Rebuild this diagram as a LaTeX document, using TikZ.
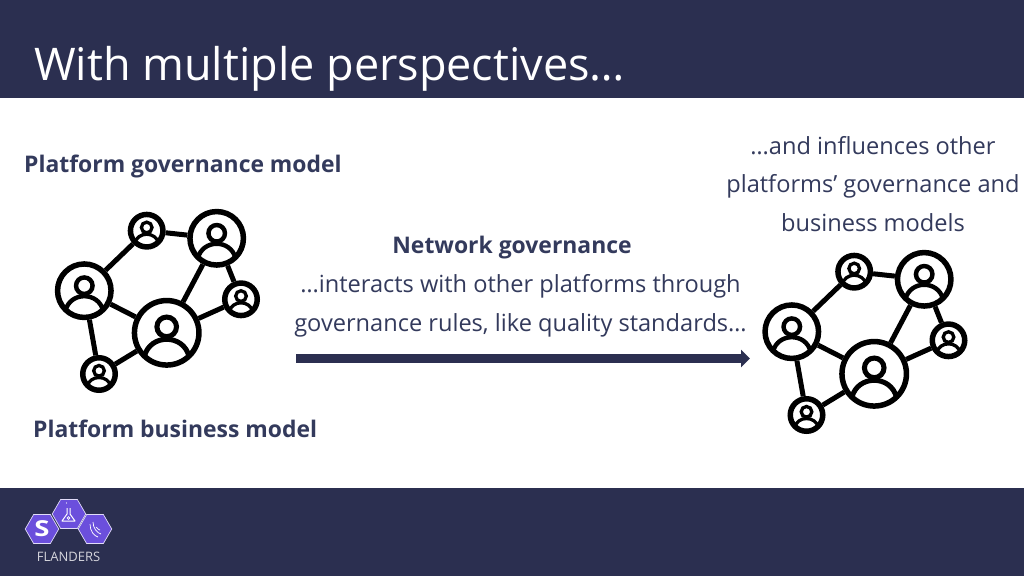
\documentclass[tikz,border=0pt]{standalone}
\usepackage{fontspec}
\setmainfont{Open Sans}
\usetikzlibrary{arrows.meta}
\usetikzlibrary{shapes.geometric}
\definecolor{bandblue}{HTML}{2B2F50}
\definecolor{inkblue}{HTML}{333A5C}
\definecolor{hexviolet}{HTML}{6B4FDC}
\tikzset{
  ring/.style={circle,draw=black,line width=#1,inner sep=0pt},
  link/.style={draw=black,line width=5pt},
  hexcell/.style={regular polygon,regular polygon sides=6,draw=white!80!hexviolet,line width=0.7pt,fill=hexviolet,minimum size=33.5pt,inner sep=0pt},
  label/.style={text=inkblue,font=\fontsize{23.6}{38.5}\selectfont,align=center,inner sep=0pt},
  boldlabel/.style={label,font=\fontsize{22.9}{38.5}\selectfont\bfseries}
}
% one user in a ring: name, position, ring radius
\newcommand{\usernode}[3]{
  \node[ring=5.5pt,minimum size=#3*2pt-5.5pt] (#1) at (#2) {};
  \begin{scope}[shift={(#2)},line width=#3*0.11pt+1.2pt]
    \draw (0,-#3*0.17) circle ({#3*0.28});
    \draw (-#3*0.64,#3*0.68) .. controls (-#3*0.48,#3*0.02) and (#3*0.48,#3*0.02) .. (#3*0.64,#3*0.68);
  \end{scope}
}
\newcommand{\usernet}{
  \usernode{top}{146.7,230.7}{19}
  \usernode{peak}{216.7,238.3}{29.5}
  \usernode{west}{84.3,290.7}{29.5}
  \usernode{hub}{166.7,332.8}{35}
  \usernode{east}{241,299.3}{19}
  \usernode{foot}{99,374}{19}
  \path[link] (top) -- (peak) (top) -- (west) (peak) -- (hub) (peak) -- (east)
    (west) -- (hub) (west) -- (foot) (hub) -- (east) (hub) -- (foot);
}
\begin{document}
\begin{tikzpicture}[x=1pt,y=-1pt]
  \useasboundingbox (0,0) rectangle (1024,576);
  \fill[white] (0,0) rectangle (1024,576);
  \fill[bandblue] (0,0) rectangle (1024,97.5);
  \fill[bandblue] (0,488) rectangle (1024,576);
  \node[anchor=base west,text=white,inner sep=0pt,font=\fontsize{45}{50}\selectfont] (title) at (34,80) {With multiple perspectives…};

  \node[boldlabel,anchor=base west] (gov) at (24,172) {Platform governance model};
  \node[boldlabel,anchor=base west] (biz) at (33,437) {Platform business model};
  \node[label,anchor=center] (influence) at (873,184) {…and influences other\\platforms’ governance and\\business models};
  \node[boldlabel,anchor=base] (netgov) at (512,253) {Network governance};
  \node[label,anchor=base] (interact) at (520.5,292) {…interacts with other platforms through};
  \node[label,anchor=base] (rules) at (520.5,331) {governance rules, like quality standards…};

  \coordinate (arrowstart) at (296,358.5);
  \coordinate (arrowend) at (750,358.5);
  \draw[bandblue,line width=8.5pt,-{Triangle[length=9pt,width=17pt]}] (arrowstart) -- (arrowend);

  \begin{scope}[name prefix=l-]
    \usernet
  \end{scope}
  \begin{scope}[shift={(707.5,41)},name prefix=r-]
    \usernet
  \end{scope}

  % logo
  \node[hexcell] (hexs) at (42,529) {};
  \node[hexcell] (hexf) at (69,514) {};
  \node[hexcell] (hexv) at (95,529) {};
  \node[text=white,inner sep=0pt,xscale=1.25,font=\fontsize{22}{22}\selectfont\bfseries] (slogo) at (hexs) {S};
  \draw[white,line width=1pt,line join=round] (67,508) -- (67,514) -- (62,521) -- (75,521) -- (70,514) -- (70,508);
  \node[circle,draw=white,line width=0.8pt,inner sep=1pt] (flaskdot) at (68.5,518) {};
  \node[circle,fill=white,inner sep=0.5pt] (bubble) at (66.5,503) {};
  \draw[white,line width=0.7pt] (90,524) .. controls (90,531) and (94,536) .. (98,537)
    (93,522) .. controls (93,528) and (97,533) .. (101,534)
    (96,527) .. controls (98,529) and (99,530) .. (100,530);
  \node[text=white!80!bandblue,inner sep=0pt,font=\fontsize{13}{13}\selectfont] (flanders) at (68.5,557) {FLANDERS};
\end{tikzpicture}
\end{document}
